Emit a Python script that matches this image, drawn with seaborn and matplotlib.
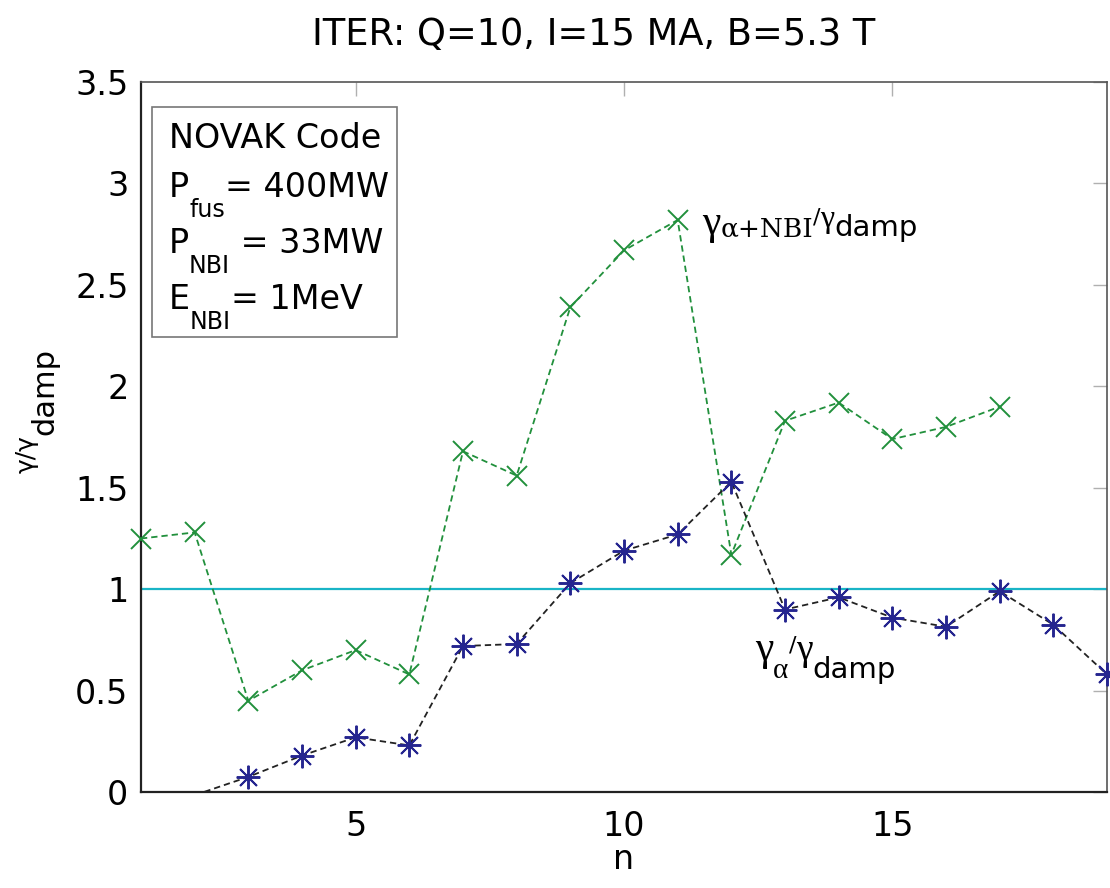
import matplotlib
matplotlib.use("Agg")
import matplotlib.pyplot as plt
from matplotlib.patches import Rectangle
import pandas as pd
import seaborn as sns

# Mode numbers and normalised growth rates
n_total = list(range(1, 18))
gamma_total = [1.25, 1.28, 0.45, 0.60, 0.70, 0.58, 1.68, 1.56, 2.39,
               2.67, 2.82, 1.17, 1.83, 1.92, 1.74, 1.80, 1.90]

n_alpha = list(range(2, 20))
gamma_alpha = [-0.015, 0.075, 0.18, 0.27, 0.23, 0.72, 0.73, 1.03, 1.19,
               1.27, 1.53, 0.90, 0.96, 0.86, 0.815, 0.99, 0.825, 0.58]

threshold = 1.0
x_ticks = [5, 10, 15]
y_ticks = [0, 0.5, 1, 1.5, 2, 2.5, 3, 3.5]

title_text = "ITER: Q=10, I=15 MA, B=5.3 T"

SANS = ["DejaVu Sans"]
SERIF = ["DejaVu Serif"]
TIMES = ["Liberation Serif", "DejaVu Serif"]

# Rich-text runs: (text, size, family, vertical shift in points)
box_rows = [
    [("NOVAK Code", 24, SANS, 0)],
    [("P", 24, SANS, 0), ("fus", 17, SANS, -14), ("= 400MW", 24, SANS, 0)],
    [("P", 24, SANS, 0), ("NBI", 17, SANS, -14), (" = 33MW", 24, SANS, 0)],
    [("E", 24, SANS, 0), ("NBI", 17, SANS, -14), ("= 1MeV", 24, SANS, 0)],
]
label_total = [("γ", 30, TIMES, 0), ("α+NBI", 19, SERIF, -1.5),
               ("/", 16, SANS, 8), ("γ", 23, TIMES, 5), ("damp", 21, SANS, -1.5)]
label_alpha = [("γ", 30, TIMES, 0), ("α", 21, TIMES, -13),
               ("/", 16, SANS, 6), ("γ", 27, TIMES, 0), ("damp", 21, SANS, -12.5)]

df_total = pd.DataFrame({"n": n_total, "g": gamma_total})
df_alpha = pd.DataFrame({"n": n_alpha, "g": gamma_alpha})

sns.set_style("white")
plt.rcParams["font.family"] = ["DejaVu Sans"]
plt.rcParams["text.color"] = "black"
plt.rcParams["axes.labelcolor"] = "black"

GREEN = "#21903c"
NAVY = "#25258f"
CYAN = "#19b4c6"

fig = plt.figure(figsize=(11.1, 8.88), dpi=100)
ax = fig.add_axes([0.127, 0.108, 0.8703, 0.7996])

ax.axhline(threshold, color=CYAN, lw=1.6, zorder=1)

dash = (0, (3.5, 2.2))
sns.lineplot(data=df_total, x="n", y="g", ax=ax, color=GREEN, lw=1.3,
             linestyle=dash, zorder=2)
sns.lineplot(data=df_total, x="n", y="g", ax=ax, color=GREEN,
             linestyle="none", marker="x", markersize=14, mew=1.4,
             markeredgecolor=GREEN, clip_on=False, zorder=3)

sns.lineplot(data=df_alpha, x="n", y="g", ax=ax, color="#222222", lw=1.3,
             linestyle=dash, zorder=4)
visible_alpha = df_alpha[df_alpha["g"] >= 0]
sns.lineplot(data=visible_alpha, x="n", y="g", ax=ax, color=NAVY,
             linestyle="none", marker=(8, 2, 0), markersize=17, mew=1.4,
             markeredgecolor=NAVY, clip_on=False, zorder=5)

ax.set_xlim(1, 19)
ax.set_ylim(0, 3.5)
ax.set_xticks(x_ticks)
ax.set_yticks(y_ticks)
ax.set_yticklabels([f"{v:g}" for v in y_ticks])
ax.tick_params(axis="both", direction="in", length=10, width=1,
               color="#b0b0b0", labelsize=24, labelcolor="black",
               top=True, right=True)
ax.tick_params(axis="y", pad=9)
ax.tick_params(axis="x", pad=13)

for side in ["left", "bottom"]:
    ax.spines[side].set_color("#222222")
    ax.spines[side].set_linewidth(1.6)
for side in ["top", "right"]:
    ax.spines[side].set_color("#555555")
    ax.spines[side].set_linewidth(1.2)
    ax.spines[side].set_visible(True)

ax.set_xlabel("n", fontsize=24, labelpad=0, color="black")
ax.set_ylabel("")
fig.text(594 / 1110, 1 - 45 / 888, title_text, fontsize=26.5,
         ha="center", va="baseline", color="black")


def rich_text(runs, x, y, transform, zorder=6):
    """Draw consecutive text runs on a shared baseline, each run placed
    right after the previous one and shifted vertically by its offset."""
    text, size, family, dy = runs[0]
    prev = ax.text(x, y, text, fontsize=size, family=family,
                   transform=transform, ha="left", va="baseline",
                   color="black", zorder=zorder)
    for text, size, family, dy in runs[1:]:
        prev = ax.annotate(text, xy=(1, y), xycoords=(prev, transform),
                           xytext=(0, dy), textcoords="offset points",
                           fontsize=size, family=family, ha="left",
                           va="baseline", color="black",
                           annotation_clip=False, zorder=zorder)
    return prev


# Parameter box in the upper-left corner
ax.add_patch(Rectangle((0.0114, 0.641), 0.2536, 0.324,
                       transform=ax.transAxes, fc="white", ec="#777777",
                       lw=1.2, zorder=5, clip_on=False))
for row, y in zip(box_rows, [0.907, 0.838, 0.759, 0.680]):
    rich_text(row, 0.029, y, ax.transAxes)

# Curve labels
rich_text(label_total, 11.45, 2.75, ax.transData)
rich_text(label_alpha, 12.44, 0.65, ax.transData)

# Rotated axis label: gamma/gamma followed by a lowered "damp"
ylab = fig.text(34 / 1110, 1 - 473 / 888, "γ/γ", fontsize=18,
                rotation=90, rotation_mode="anchor", ha="left",
                va="baseline", color="black")
ax.annotate("damp", xy=(53 / 1110, 1.0),
            xycoords=(fig.transFigure, ylab),
            fontsize=22, rotation=90, rotation_mode="anchor",
            ha="left", va="baseline", color="black",
            annotation_clip=False)

fig.savefig("out.png", dpi=100)
